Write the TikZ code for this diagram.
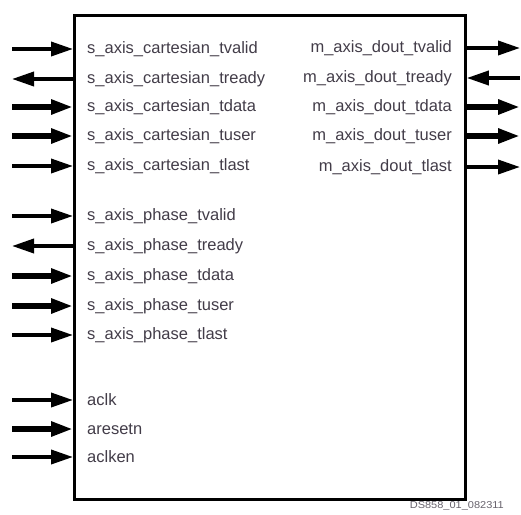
\documentclass[tikz,border=0pt]{standalone}
\usepackage{fontspec}
\setmainfont{Liberation Sans}
\usetikzlibrary{arrows.meta}
\definecolor{labelgray}{RGB}{66,60,72}
\tikzset{
  port/.style={text=labelgray, font=\fontsize{16.5}{18}\selectfont, inner sep=0pt},
  sig/.style={line width=3.6pt, -{Triangle[length=22pt 0, width=14pt 0]}},
  bus/.style={line width=5.6pt, -{Triangle[length=22pt 0, width=14pt 0]}},
}
\begin{document}
\begin{tikzpicture}[x=1pt, y=-1pt]
        \useasboundingbox (0,0) rectangle (521,514);
        % Core block
        \node (core) [draw, line width=2.8pt, minimum width=391pt, minimum height=484pt,
              inner sep=0pt, anchor=north west] at (73,14) {};

        % Left side ports
        \node (ctvalid) [port, anchor=west] at (87,49) {s\_axis\_cartesian\_tvalid};
        \node (ctready) [port, anchor=west] at (87,79) {s\_axis\_cartesian\_tready};
        \node (ctdata)  [port, anchor=west] at (87,107) {s\_axis\_cartesian\_tdata};
        \node (ctuser)  [port, anchor=west] at (87,136) {s\_axis\_cartesian\_tuser};
        \node (ctlast)  [port, anchor=west] at (87,166) {s\_axis\_cartesian\_tlast};
        \node (ptvalid) [port, anchor=west] at (87,216) {s\_axis\_phase\_tvalid};
        \node (ptready) [port, anchor=west] at (87,246) {s\_axis\_phase\_tready};
        \node (ptdata)  [port, anchor=west] at (87,276) {s\_axis\_phase\_tdata};
        \node (ptuser)  [port, anchor=west] at (87,306) {s\_axis\_phase\_tuser};
        \node (ptlast)  [port, anchor=west] at (87,335) {s\_axis\_phase\_tlast};
        \node (aclk)    [port, anchor=west] at (87,400) {aclk};
        \node (aresetn) [port, anchor=west] at (87,429) {aresetn};
        \node (aclken)  [port, anchor=west] at (87,457) {aclken};

        % Right side ports
        \node (dtvalid) [port, anchor=east] at (452,48) {m\_axis\_dout\_tvalid};
        \node (dtready) [port, anchor=east] at (452,78) {m\_axis\_dout\_tready};
        \node (dtdata)  [port, anchor=east] at (452,107) {m\_axis\_dout\_tdata};
        \node (dtuser)  [port, anchor=east] at (452,136) {m\_axis\_dout\_tuser};
        \node (dtlast)  [port, anchor=east] at (452,167) {m\_axis\_dout\_tlast};

        % Free ends of the connectors
        \coordinate (L) at (12,0);
        \coordinate (R) at (520,0);

        % Left connectors
        \draw[sig] (L |- ctvalid) -- (core.west |- ctvalid);
        \draw[sig] (core.west |- ctready) -- (L |- ctready);
        \draw[bus] (L |- ctdata) -- (core.west |- ctdata);
        \draw[bus] (L |- ctuser) -- (core.west |- ctuser);
        \draw[sig] (L |- ctlast) -- (core.west |- ctlast);
        \draw[sig] (L |- ptvalid) -- (core.west |- ptvalid);
        \draw[sig] (core.west |- ptready) -- (L |- ptready);
        \draw[bus] (L |- ptdata) -- (core.west |- ptdata);
        \draw[bus] (L |- ptuser) -- (core.west |- ptuser);
        \draw[sig] (L |- ptlast) -- (core.west |- ptlast);
        \draw[sig] (L |- aclk) -- (core.west |- aclk);
        \draw[bus] (L |- aresetn) -- (core.west |- aresetn);
        \draw[sig] (L |- aclken) -- (core.west |- aclken);

        % Right connectors
        \draw[sig] (core.east |- dtvalid) -- (R |- dtvalid);
        \draw[sig] (R |- dtready) -- (core.east |- dtready);
        \draw[bus] (core.east |- dtdata) -- (R |- dtdata);
        \draw[bus] (core.east |- dtuser) -- (R |- dtuser);
        \draw[sig] (core.east |- dtlast) -- (R |- dtlast);

        % Figure tag
        \node (tag) [text=labelgray!80, font=\fontsize{10}{11}\selectfont, inner sep=0pt,
              anchor=east] at (504,506) {\scalebox{1.1}[1]{DS858\_01\_082311}};
\end{tikzpicture}
\end{document}
